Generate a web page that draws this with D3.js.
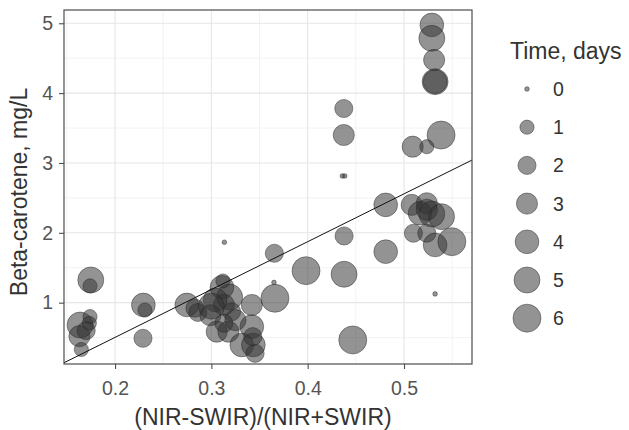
<!DOCTYPE html>
<html>
<head>
<meta charset="utf-8">
<script src="https://cdn.jsdelivr.net/npm/d3@7"></script>
<style>
  body { margin: 0; background: #fff; }
  text { font-family: "Liberation Sans", Arial, sans-serif; }
</style>
</head>
<body>
<script>
// values
const ratio = [0.1748, 0.174, 0.1637, 0.1733, 0.174, 0.163, 0.165, 0.17,
  0.2294, 0.231, 0.229, 0.2745, 0.283, 0.286, 0.311, 0.319, 0.313, 0.304,
  0.299, 0.321, 0.312, 0.3056, 0.3177, 0.313, 0.342, 0.342, 0.3316, 0.3436,
  0.3454, 0.343, 0.366, 0.365, 0.3654, 0.3983, 0.4378, 0.4378, 0.481, 0.481,
  0.4468, 0.5323, 0.508, 0.5237, 0.5167, 0.5289, 0.539, 0.5098, 0.5237,
  0.5323, 0.5497, 0.5237, 0.5289, 0.5289, 0.5313, 0.5323, 0.5323, 0.5385,
  0.509, 0.5237, 0.4375, 0.4375, 0.436, 0.4385, 0.3135, 0.3, 0.325];
const betaCarotene = [1.325, 1.24, 0.68, 0.705, 0.80, 0.52, 0.33, 0.60,
  0.967, 0.895, 0.49, 0.967, 0.92, 0.86, 1.22, 1.08, 0.97, 1.04,
  0.82, 0.87, 1.31, 0.585, 0.585, 0.705, 0.967, 0.656, 0.394, 0.394,
  0.275, 0.513, 1.063, 1.29, 1.707, 1.458, 1.407, 1.955, 1.73, 2.40,
  0.466, 1.125, 2.40, 2.423, 2.28, 2.27, 2.231, 1.994, 1.994,
  1.826, 1.873, 2.33, 4.976, 4.785, 4.475, 4.164, 4.164, 3.40,
  3.233, 3.233, 3.78, 3.40, 2.814, 2.814, 1.865, 0.95, 0.75];
const timeDays = [5, 1, 5, 1, 1, 3, 1, 2,
  4, 1, 2, 4, 2, 2, 4, 5, 3, 4,
  3, 2, 1, 3, 3, 2, 3, 4, 4, 4,
  2, 2, 6, 0, 2, 6, 5, 2, 4, 4,
  6, 0, 3, 3, 4, 5, 5, 2, 2,
  4, 6, 3, 4, 5, 3, 5, 4, 6,
  3, 1, 2, 3, 0, 0, 0, 5, 3];
const fitCoef = [-0.867, 6.85]; // intercept, slope
const xTicks = [0.2, 0.3, 0.4, 0.5];
const yTicks = [1, 2, 3, 4, 5];
const legendDays = [0, 1, 2, 3, 4, 5, 6];

const W = 629, H = 430;
const pLeft = 64, pRight = 472, pTop = 10, pBottom = 364;

const svg = d3.select("body").append("svg")
  .attr("width", W)
  .attr("height", H);

const x = d3.scaleLinear().domain([0.147, 0.5706]).range([pLeft, pRight]);
const y = d3.scaleLinear().domain([0.122, 5.19]).range([pBottom, pTop]);
const r = d3.scaleSqrt().domain([0, 6]).range([2.33, 14]);

// grid
const xMinor = d3.range(0.15, 0.571, 0.1);
const yMinor = d3.range(0.5, 5.2, 1);
const grid = svg.append("g");
grid.selectAll(".vminor").data(xMinor).enter().append("line")
  .attr("x1", d => x(d)).attr("x2", d => x(d))
  .attr("y1", pTop).attr("y2", pBottom)
  .attr("stroke", "#efefef").attr("stroke-width", 0.8);
grid.selectAll(".hminor").data(yMinor).enter().append("line")
  .attr("y1", d => y(d)).attr("y2", d => y(d))
  .attr("x1", pLeft).attr("x2", pRight)
  .attr("stroke", "#efefef").attr("stroke-width", 0.8);
grid.selectAll(".vmajor").data(xTicks).enter().append("line")
  .attr("x1", d => x(d)).attr("x2", d => x(d))
  .attr("y1", pTop).attr("y2", pBottom)
  .attr("stroke", "#e6e6e6").attr("stroke-width", 1.1);
grid.selectAll(".hmajor").data(yTicks).enter().append("line")
  .attr("y1", d => y(d)).attr("y2", d => y(d))
  .attr("x1", pLeft).attr("x2", pRight)
  .attr("stroke", "#e6e6e6").attr("stroke-width", 1.1);

svg.append("clipPath").attr("id", "panel")
  .append("rect")
  .attr("x", pLeft).attr("y", pTop)
  .attr("width", pRight - pLeft).attr("height", pBottom - pTop);

// points
const pts = d3.range(ratio.length);
svg.append("g")
  .selectAll("circle")
  .data(pts)
  .enter()
  .append("circle")
  .attr("cx", i => x(ratio[i]))
  .attr("cy", i => y(betaCarotene[i]))
  .attr("r", i => r(timeDays[i]))
  .attr("fill", "#333")
  .attr("fill-opacity", 0.53)
  .attr("stroke", "#222")
  .attr("stroke-opacity", 0.55)
  .attr("stroke-width", 0.8);

// fitted line
const xd = x.domain();
svg.append("line")
  .attr("clip-path", "url(#panel)")
  .attr("x1", x(xd[0])).attr("y1", y(fitCoef[0] + fitCoef[1] * xd[0]))
  .attr("x2", x(xd[1])).attr("y2", y(fitCoef[0] + fitCoef[1] * xd[1]))
  .attr("stroke", "#111")
  .attr("stroke-width", 1);

// panel border
svg.append("rect")
  .attr("x", pLeft).attr("y", pTop)
  .attr("width", pRight - pLeft).attr("height", pBottom - pTop)
  .attr("fill", "none")
  .attr("stroke", "#4d4d4d")
  .attr("stroke-width", 1.2);

// axes
const xAxis = svg.append("g")
  .attr("transform", "translate(0," + pBottom + ")")
  .call(d3.axisBottom(x).tickValues(xTicks).tickSize(5).tickFormat(d3.format(".1f")));
const yAxis = svg.append("g")
  .attr("transform", "translate(" + pLeft + ",0)")
  .call(d3.axisLeft(y).tickValues(yTicks).tickSize(5).tickFormat(d3.format("d")));
[xAxis, yAxis].forEach(a => {
  a.select(".domain").remove();
  a.selectAll(".tick line").attr("stroke", "#4d4d4d").attr("stroke-width", 1.1);
  a.selectAll(".tick text")
    .attr("fill", "#555")
    .style("font-size", "19.5px")
    .style("font-family", "'Liberation Sans', Arial, sans-serif");
});
xAxis.selectAll(".tick text").attr("y", 31).attr("dy", null);
yAxis.selectAll(".tick text").attr("x", -11);

svg.append("text")
  .attr("x", 263)
  .attr("y", 425)
  .attr("text-anchor", "middle")
  .attr("fill", "#333")
  .style("font-size", "23px")
  .text("(NIR-SWIR)/(NIR+SWIR)");

svg.append("text")
  .attr("transform", "translate(27,192) rotate(-90)")
  .attr("text-anchor", "middle")
  .attr("fill", "#333")
  .style("font-size", "23px")
  .text("Beta-carotene, mg/L");

// legend
const legend = svg.append("g");
legend.append("text")
  .attr("x", 510)
  .attr("y", 59)
  .attr("fill", "#333")
  .style("font-size", "23px")
  .text("Time, days");

const item = legend.selectAll(".item")
  .data(legendDays)
  .enter()
  .append("g")
  .attr("transform", (d, i) => "translate(527," + (89 + i * 38.2) + ")");
item.append("circle")
  .attr("r", d => r(d))
  .attr("fill", "#333")
  .attr("fill-opacity", 0.53)
  .attr("stroke", "#222")
  .attr("stroke-opacity", 0.55)
  .attr("stroke-width", 0.8);
item.append("text")
  .attr("x", 26)
  .attr("dy", "0.36em")
  .attr("fill", "#333")
  .style("font-size", "19.5px")
  .text(d => d);
</script>
</body>
</html>
